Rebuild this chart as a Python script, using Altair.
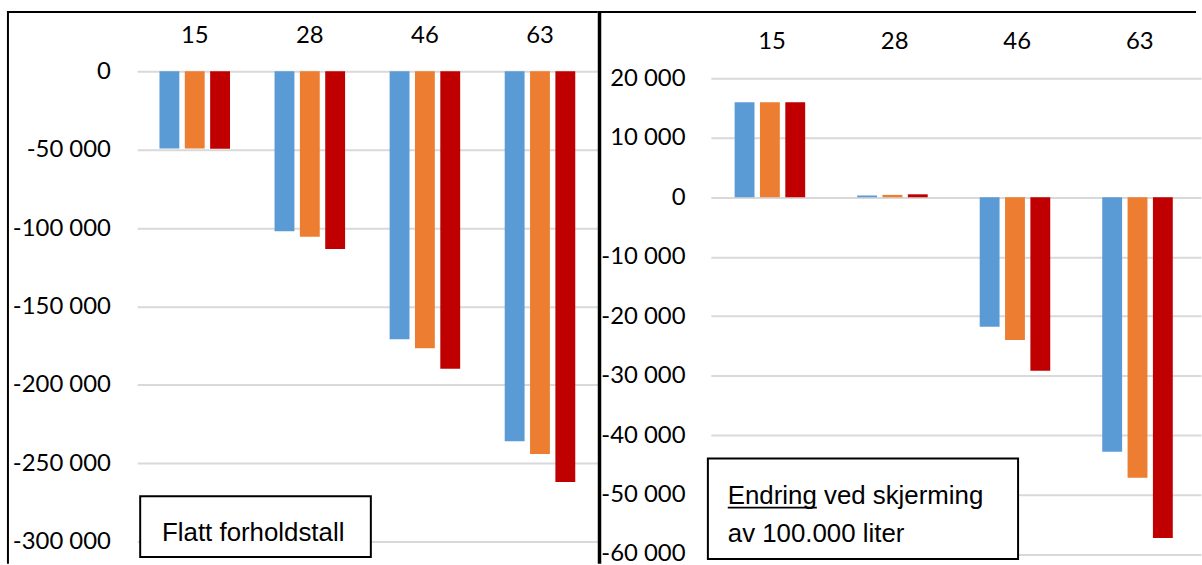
import altair as alt
import pandas as pd

# Category labels (x axis) and the three series shown in every group
groups = ["15", "28", "46", "63"]
series_names = ["Serie 1", "Serie 2", "Serie 3"]
series_colors = ["#5B9BD5", "#ED7D31", "#C00000"]

# Left panel: Flatt forholdstall
flat_s1 = [-49300, -102100, -170900, -236000]
flat_s2 = [-49300, -105500, -176600, -244000]
flat_s3 = [-49400, -113300, -189700, -262000]
flat_ticks = [0, -50000, -100000, -150000, -200000, -250000, -300000]

# Right panel: Endring ved skjerming av 100.000 liter
change_s1 = [16000, 300, -21800, -42800]
change_s2 = [16000, 400, -24000, -47200]
change_s3 = [16000, 500, -29200, -57300]
change_ticks = [20000, 10000, 0, -10000, -20000, -30000, -40000, -50000, -60000]

TICK_FONT = "Lato"
BOX_FONT = "Liberation Sans"
GRID = "#D9D9D9"

# Norwegian style thousands separator (space) with a plain hyphen minus
LABEL_EXPR = "(datum.value < 0 ? '-' : '') + replace(format(abs(datum.value), ','), ',', ' ')"


def long_table(s1, s2, s3):
    rows = []
    for name, vals in zip(series_names, [s1, s2, s3]):
        for g, v in zip(groups, vals):
            rows.append({"group": g, "series": name, "value": v})
    return pd.DataFrame(rows)


one = pd.DataFrame({"k": [0]})


def bars(df, y_scale, ticks, x_scale, off_pad, y_label_pad, x_label_pad):
    return alt.Chart(df).mark_bar().encode(
        x=alt.X(
            "group:N",
            sort=groups,
            scale=x_scale,
            axis=alt.Axis(
                orient="top", title=None, domain=False, ticks=False, grid=False,
                labelAngle=0, labelFont=TICK_FONT, labelFontSize=24,
                labelColor="#000000", labelPadding=x_label_pad,
                labelBaseline="alphabetic",
            ),
        ),
        xOffset=alt.XOffset(
            "series:N", sort=series_names,
            scale=alt.Scale(paddingInner=off_pad, paddingOuter=0),
        ),
        y=alt.Y(
            "value:Q",
            scale=y_scale,
            axis=alt.Axis(
                title=None, values=ticks, labelExpr=LABEL_EXPR, domain=False,
                ticks=False, grid=True, gridColor=GRID, gridWidth=2,
                labelFont=TICK_FONT, labelFontSize=24, labelColor="#000000",
                labelPadding=y_label_pad, labelOverlap=False,
            ),
        ),
        color=alt.Color(
            "series:N",
            scale=alt.Scale(domain=series_names, range=series_colors),
            legend=None,
        ),
    )


def bar_line(x, x2, y, y2):
    # solid black strip used for the panel frames
    return alt.Chart(one).mark_rect(fill="#000000").encode(
        x=alt.value(x), x2=alt.value(x2), y=alt.value(y), y2=alt.value(y2)
    )


def hrule(x, x2, y, w):
    return alt.Chart(one).mark_rule(color="#000000", strokeWidth=w).encode(
        x=alt.value(x), x2=alt.value(x2), y=alt.value(y)
    )


def box(x, x2, y, y2):
    return alt.Chart(one).mark_rect(fill="#FFFFFF", stroke="#000000", strokeWidth=2).encode(
        x=alt.value(x), x2=alt.value(x2), y=alt.value(y), y2=alt.value(y2)
    )


def label(text, x, y):
    return alt.Chart(pd.DataFrame({"t": [text]})).mark_text(
        align="left", baseline="alphabetic", font=BOX_FONT, fontSize=26, color="#000000"
    ).encode(x=alt.value(x), y=alt.value(y), text="t:N")


# ---- left panel -----------------------------------------------------------
flat_df = long_table(flat_s1, flat_s2, flat_s3)
left_bars = bars(
    flat_df,
    alt.Scale(domain=[-300000, 0], nice=False, zero=True),
    flat_ticks,
    alt.Scale(paddingInner=0.387, paddingOuter=0.1935),
    0.216, 27, 28.5,
)
left = alt.layer(
    left_bars,
    bar_line(-131, -129, -60.5, 495.5),
    bar_line(-131, 463, -60.5, -58.5),
    box(3, 235, 427.5, 488.5),
    label("Flatt forholdstall", 25, 472.5),
).properties(width=463, height=473.2)

# ---- right panel ----------------------------------------------------------
change_df = long_table(change_s1, change_s2, change_s3)
right_bars = bars(
    change_df,
    alt.Scale(domain=[-60000, 20000], nice=False, zero=True, range=[485.5, 7.2]),
    change_ticks,
    alt.Scale(range=[0, 493], paddingInner=0.388, paddingOuter=0.194),
    0.204, 26, 22.5,
)
right = alt.layer(
    right_bars,
    bar_line(-113.75, -110.25, -60.5, 495.5),
    bar_line(-114, 488, -60.5, -58.5),
    box(-3, 309, 389.5, 490.5),
    label("Endring ved skjerming", 17, 435.5),
    label("av 100.000 liter", 17, 473.5),
    hrule(17, 106.6, 439, 1.8),
).properties(width=488, height=485.5)

chart = alt.hconcat(left, right, spacing=114, bounds="flush").properties(
    padding={"left": 6, "top": 9, "right": 0, "bottom": 0},
    background="#FFFFFF",
).configure_view(stroke="transparent")

chart.save("out.html", embed_options={"renderer": "svg", "actions": False})
